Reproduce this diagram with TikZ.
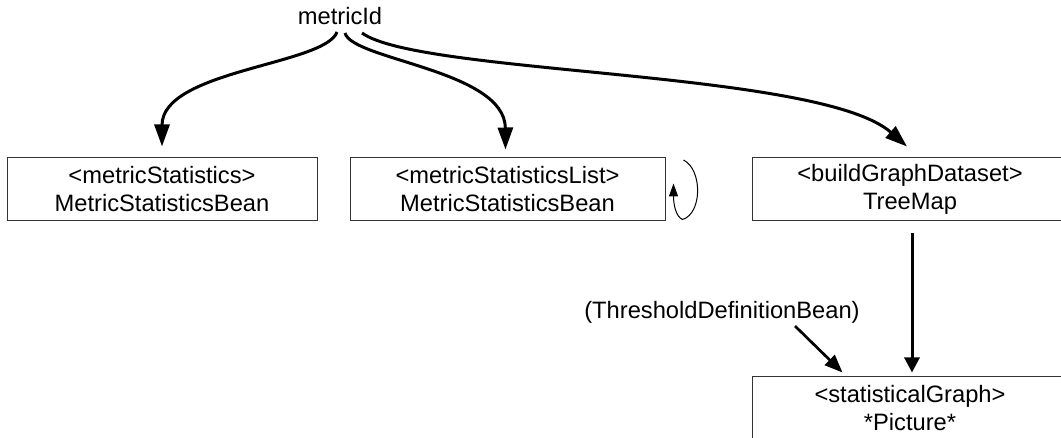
\documentclass[tikz,border=0pt]{standalone}
\usepackage{fontspec}
\setmainfont{Liberation Sans}
\usetikzlibrary{arrows.meta,calc}
\begin{document}
\begin{tikzpicture}[x=1pt,y=-1pt,
  txt/.style={inner sep=0pt,font=\fontsize{23.7}{28}\selectfont},
  box/.style={txt,draw=black!80,line width=1pt,minimum width=315pt,minimum height=63pt,align=center},
  flow/.style={line width=3pt,-{Triangle[length=22pt,width=15pt]}},
  medflow/.style={line width=2.7pt,-{Triangle[length=18pt,width=14pt]}},
  vflow/.style={line width=3pt,-{Triangle[length=15pt,width=15pt]}},
  thinflow/.style={line width=1pt,-{Triangle[length=13pt,width=9pt]}}]
\clip (0,0) rectangle (1061,438);
\node[txt,anchor=base] (m) at (340,25) {metricId};
\node[box,minimum width=310pt] (b1) at (162,189.5) {<metricStatistics>\\MetricStatisticsBean};
\node[box] (b2) at (507.5,189.5) {<metricStatisticsList>\\MetricStatisticsBean};
\node[box,minimum width=316pt] (b3) at (910,189.5) {<buildGraphDataset>\\TreeMap};
\node[box,minimum width=316pt] (b4) at (910,408.5) {<statisticalGraph>\\*Picture*};
\node[txt,anchor=base] (th) at (722,319) {(ThresholdDefinitionBean)};
\draw[flow] ($(m.base)+(-3,7)$) .. controls (325,65) and (162,70) .. ($(b1.north)+(0,-11)$);
\draw[flow] ($(m.base)+(5,8)$) .. controls (352,60) and (505,70) .. ($(b2.north)+(-2,-8)$);
\draw[flow] ($(m.base)+(22,8)$) .. controls (420,75) and (820,70) .. ($(b3.north)+(-3,-11)$);
\draw[vflow] ($(b3.south)+(2,12)$) -- ($(b4.north)+(2,-4)$);
\draw[medflow] ($(th.base)+(73,7)$) -- ($(b4.north west)+(91,-4)$);
\draw[thinflow] ($(b2.east)+(18,-29.5)$) .. controls ($(b2.east)+(37,-20)$) and ($(b2.east)+(37,24)$) .. ($(b2.east)+(17,30)$)
  .. controls ($(b2.east)+(10,27)$) and ($(b2.east)+(8,14)$) .. ($(b2.east)+(8,-6)$);
\end{tikzpicture}
\end{document}
